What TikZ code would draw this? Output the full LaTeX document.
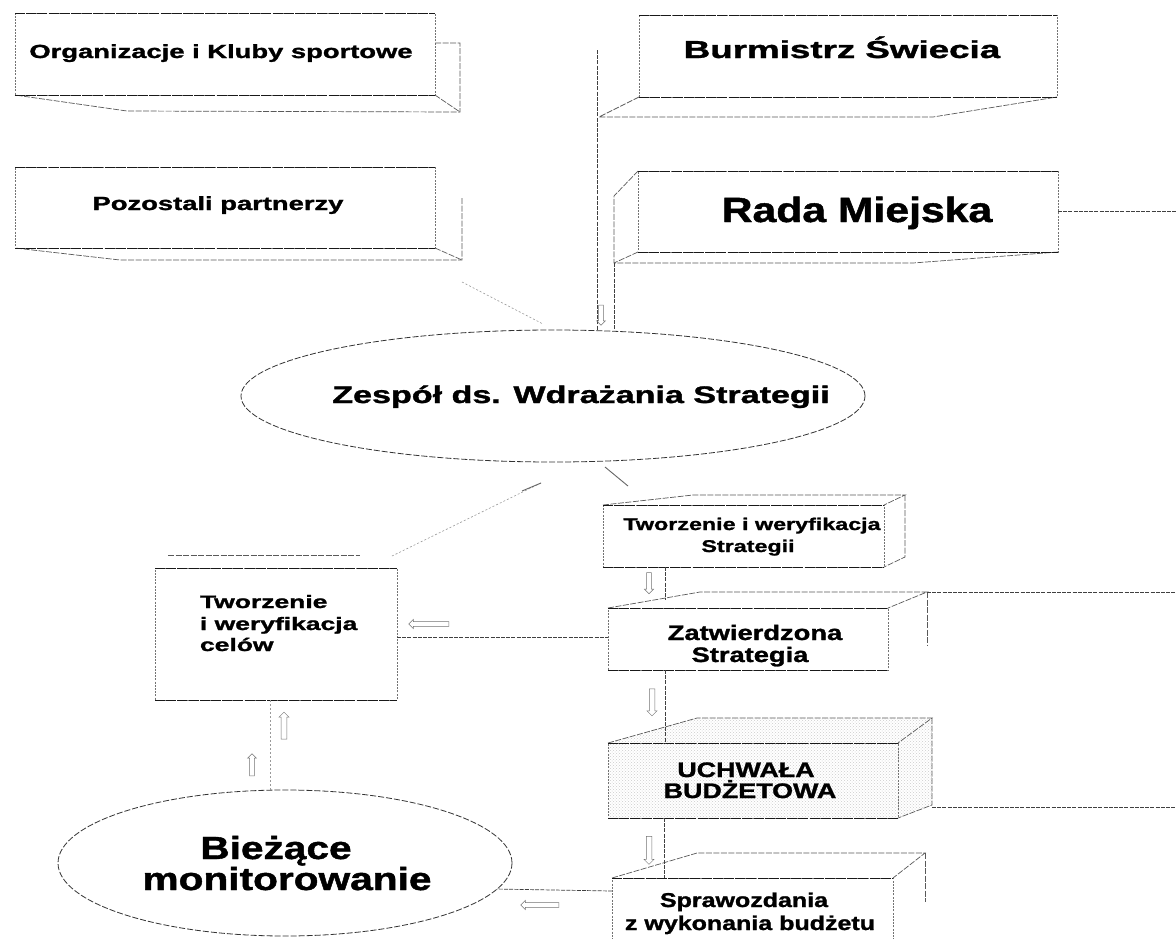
\documentclass[tikz,border=0pt]{standalone}
\usepackage{graphicx}
\usepackage{fontspec}
\setmainfont{Liberation Sans}[BoldFeatures={FakeBold=1.2}]
\usetikzlibrary{shapes.geometric,shapes.arrows,patterns}
\newcommand\wtxt[3]{\scalebox{#2}[1]{\fontsize{#1}{#1}\selectfont\bfseries #3}}
\begin{document}
\begin{tikzpicture}[x=1pt,y=-1pt,
  fbox/.style={rectangle, draw=black!55, line width=0.7pt, dash pattern=on 2pt off 1.2pt, inner sep=0pt, outer sep=0pt},
  hedge/.style={draw=black!90, line width=0.9pt, dash pattern=on 10pt off 1.2pt},
  depth/.style={draw=black!65, line width=0.7pt, dash pattern=on 6pt off 1.5pt},
  conn/.style={draw=black!75, line width=0.7pt, dash pattern=on 4pt off 1.2pt},
  faint/.style={draw=black!40, line width=0.6pt, dash pattern=on 2pt off 2pt},
  stroke/.style={draw=black!60, line width=0.9pt},
  oval/.style={ellipse, draw=black!80, line width=0.8pt, dash pattern=on 6pt off 2pt, inner sep=0pt, outer sep=0pt},
  barrow/.style={single arrow, draw=black!55, line width=0.5pt, inner sep=2.2pt, outer sep=0pt, single arrow head extend=2pt},
  lbl/.style={inner sep=0pt, outer sep=0pt, text=black},
  stip/.style={pattern=crosshatch dots, pattern color=black!20}
]
\clip (0,0) rectangle (1176,938);
\fill[white] (0,0) rectangle (1176,938);

% ---------- Organizacje i Kluby sportowe
\node[fbox, minimum width=420, minimum height=82] (org) at (225,54) {};
\draw[depth] (435,43) -- (460,43) -- (460,112) -- (127,111) -- (org.south west);
\draw[depth] (org.south east) -- (460,112);
\node[lbl, anchor=base] (torg) at (221,58) {\wtxt{19}{1.44}{Organizacje i Kluby sportowe}};

% ---------- Pozostali partnerzy
\node[fbox, minimum width=420, minimum height=81] (poz) at (225,207.5) {};
\draw[depth] (462,198) -- (462,260) -- (120,260) -- (poz.south west);
\draw[depth] (poz.south east) -- (462,260);
\node[lbl, anchor=base] (tpoz) at (218,210) {\wtxt{19}{1.44}{Pozostali partnerzy}};

% ---------- Burmistrz
\node[fbox, minimum width=418, minimum height=82] (bur) at (848,56) {};
\draw[depth] (bur.south west) -- (599,117) -- (933,117) -- (bur.south east);
\node[lbl, anchor=base] (tbur) at (842,58) {\wtxt{24.5}{1.5}{Burmistrz Świecia}};

% ---------- Rada Miejska
\node[fbox, minimum width=420, minimum height=81] (rada) at (848,211.5) {};
\draw[depth] (rada.north west) -- (614,196) -- (614,263) -- (913,263) -- (rada.south east);
\draw[depth] (rada.south west) -- (614,263);
\node[lbl, anchor=base] (trada) at (857,222) {\wtxt{35}{1.22}{Rada Miejska}};
\coordinate (rr) at (1176,211.5);
\draw[conn] (rada.east) -- (rr);

% ---------- Zespol
\node[oval, minimum width=624, minimum height=132] (zesp) at (553,396) {};
\node[lbl, anchor=base] (tzesp) at (581,403) {\wtxt{24}{1.42}{Zespół ds. Wdrażania Strategii}};

\coordinate (bl) at (597,50);
\coordinate (rl) at (614,263);
\draw[conn] (bl) -- (bl |- zesp.north);
\draw[conn] (rl) -- (rl |- zesp.north);
\node[barrow, minimum height=20, minimum width=7, rotate=-90] (a8) at (601,314) {};

% ---------- Tworzenie i weryfikacja Strategii
\node[fbox, minimum width=281, minimum height=62] (tws) at (743.5,536) {};
\draw[depth] (tws.north west) -- (693,495) -- (905,495) -- (tws.north east);
\draw[depth] (905,495) -- (905,557) -- (tws.south east);
\node[lbl, anchor=base] (ttws1) at (752,530) {\wtxt{17}{1.37}{Tworzenie i weryfikacja}};
\node[lbl, anchor=base] (ttws2) at (748,552) {\wtxt{17}{1.37}{Strategii}};

% ---------- Zatwierdzona Strategia
\node[fbox, minimum width=280, minimum height=62] (zat) at (748,639) {};
\draw[depth] (zat.north west) -- (700,592) -- (927,592) -- (zat.north east);
\draw[depth] (927,592) -- (927,645);
\coordinate (zr) at (1176,592);
\draw[conn] (927,592) -- (zr);
\node[lbl, anchor=base] (tzat1) at (755,640) {\wtxt{21}{1.3}{Zatwierdzona}};
\node[lbl, anchor=base] (tzat2) at (750,662) {\wtxt{21}{1.3}{Strategia}};

% ---------- UCHWALA BUDZETOWA
\fill[stip] (608,743) -- (697,718) -- (932,718) -- (932,805) -- (898,818) -- (898,743) -- cycle;
\node[fbox, stip, minimum width=290, minimum height=75] (uch) at (753,780.5) {};
\draw[depth] (uch.north west) -- (697,718) -- (932,718) -- (uch.north east);
\draw[depth] (932,718) -- (932,805) -- (uch.south east);
\coordinate (ur) at (1176,807);
\draw[conn] (932,807) -- (ur);
\node[lbl, anchor=base] (tuch1) at (746,777) {\wtxt{21}{1.28}{UCHWAŁA}};
\node[lbl, anchor=base] (tuch2) at (750,798) {\wtxt{21}{1.28}{BUDŻETOWA}};

% ---------- Sprawozdania
\node[fbox, minimum width=281, minimum height=82] (spr) at (752.5,919) {};
\draw[depth] (spr.north west) -- (697,853) -- (925,853) -- (spr.north east);
\draw[depth] (925,853) -- (925,902);
\node[lbl, anchor=base] (tspr1) at (744,907) {\wtxt{20}{1.25}{Sprawozdania}};
\node[lbl, anchor=base] (tspr2) at (750,930) {\wtxt{20}{1.25}{z wykonania budżetu}};

% ---------- Tworzenie i weryfikacja celow
\node[fbox, minimum width=242, minimum height=132] (celow) at (276,634) {};
\draw[depth] (168,555) -- (360,555);
\node[lbl, anchor=base west] (tcel1) at (200,608) {\wtxt{18}{1.47}{Tworzenie}};
\node[lbl, anchor=base west] (tcel2) at (200,630) {\wtxt{18}{1.47}{i weryfikacja}};
\node[lbl, anchor=base west] (tcel3) at (200,651) {\wtxt{18}{1.47}{celów}};

% dark top and bottom edges of the front faces
\foreach \n in {org,poz,bur,rada,tws,zat,uch,spr,celow}
  \draw[hedge] (\n.north west) -- (\n.north east) (\n.south west) -- (\n.south east);

% ---------- Biezace monitorowanie
\node[oval, minimum width=454, minimum height=146] (biez) at (285,863) {};
\node[lbl, anchor=base] (tbiez1) at (276,859) {\wtxt{32}{1.27}{Bieżące}};
\node[lbl, anchor=base] (tbiez2) at (287,890) {\wtxt{32}{1.27}{monitorowanie}};

% ---------- connectors
\draw[conn] (celow.east |- 0,637) -- (zat.west |- 0,637);
\draw[conn] (tws.south -| 665,0) -- (665,600);
\draw[conn] (zat.south -| 665,0) -- (uch.north -| 665,0);
\draw[conn] (uch.south -| 664,0) -- (spr.north -| 664,0);
\draw[faint] (celow.south -| 270,0) -- (biez.north -| 270,0);
\draw[conn] (spr.west |- 0,891) -- (biez.-7.6);

\coordinate (d1) at (392,556);
\coordinate (d2) at (541,483);
\draw[faint] (d1) -- (d2);
\draw[stroke] (522,491) -- (d2);
\draw[stroke] (605,467) -- (628,486);
\coordinate (p1) at (462,282);
\coordinate (p2) at (543,324);
\draw[faint] (p1) -- (p2);

% ---------- outlined block arrows
\node[barrow, minimum height=21, minimum width=9, rotate=-90] (a1) at (649,582) {};
\node[barrow, minimum height=27, minimum width=10, rotate=-90] (a2) at (652,701) {};
\node[barrow, minimum height=28, minimum width=10, rotate=-90] (a3) at (649,849) {};
\node[barrow, minimum height=40, minimum width=9, rotate=180] (a4) at (430,624) {};
\node[barrow, minimum height=38, minimum width=9, rotate=180] (a5) at (541,905) {};
\node[barrow, minimum height=27, minimum width=10, rotate=90] (a6) at (284,727) {};
\node[barrow, minimum height=22, minimum width=8, rotate=90] (a7) at (252,766) {};
\end{tikzpicture}
\end{document}
